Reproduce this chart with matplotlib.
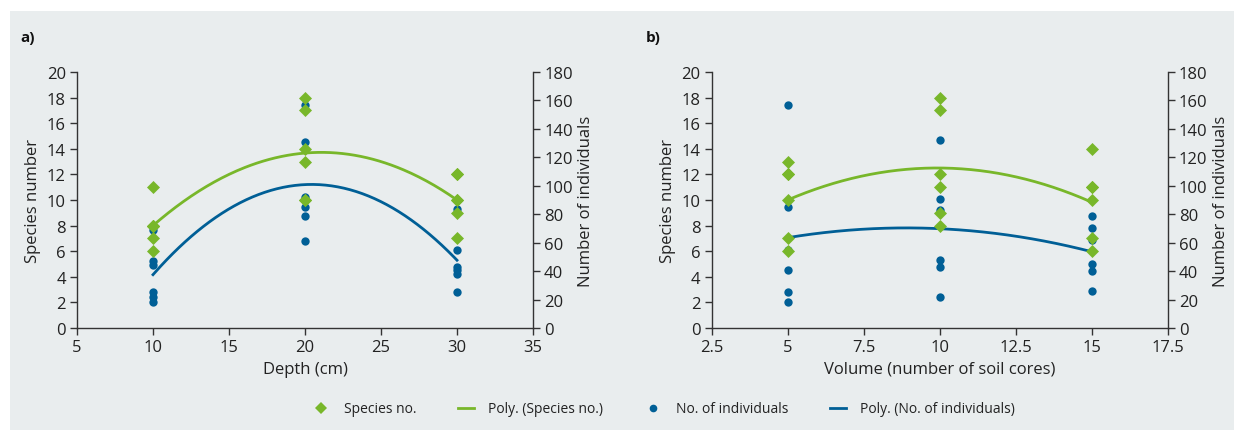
import numpy as np
import matplotlib
matplotlib.use("Agg")
import matplotlib.pyplot as plt
from matplotlib.ticker import FuncFormatter, MultipleLocator
from matplotlib.lines import Line2D

# ---------------- data ----------------
depth_x = [10, 20, 30]
depth_species = [
    [11, 8, 8, 8, 7, 6],
    [18, 17, 14, 13, 10, 10],
    [12, 12, 10, 10, 9, 7],
]
depth_individuals = [
    [69, 47, 44, 25, 22, 18],
    [157, 131, 92, 85, 79, 61],
    [84, 55, 43, 41, 38, 25],
]

volume_x = [5, 10, 15]
volume_species = [
    [13, 12, 12, 10, 7, 6],
    [18, 17, 12, 11, 9, 8],
    [14, 11, 11, 10, 7, 6],
]
volume_individuals = [
    [157, 85, 55, 41, 25, 18],
    [132, 91, 83, 48, 43, 22],
    [79, 70, 62, 45, 40, 26],
]

legend_labels = ["Species no.", "Poly. (Species no.)",
                 "No. of individuals", "Poly. (No. of individuals)"]

# ---------------- style ----------------
GREEN = "#78b72a"
BLUE = "#005f96"
BG = "#e9edee"
SPINE = "#333333"
plt.rcParams['font.family'] = ['Open Sans', 'DejaVu Sans']

W, H = 1234, 431
fig = plt.figure(figsize=(W / 100, H / 100), dpi=100)
fig.patch.set_facecolor("white")
fig.patches.append(plt.Rectangle((10 / W, 0), 1 - 10 / W, 1 - 12 / H,
                                 transform=fig.transFigure, facecolor=BG,
                                 edgecolor="none", zorder=-10))


def flatten(xs, groups):
    xx, yy = [], []
    for x, g in zip(xs, groups):
        xx += [x] * len(g)
        yy += list(g)
    return np.array(xx, float), np.array(yy, float)


def panel(left_px, xlim, xstep, xs, species, indiv, xlabel, tag, tag_px):
    ax = fig.add_axes([left_px / W, 1 - 329 / H, 456 / W, 256 / H])
    ax2 = ax.twinx()
    ax.set_zorder(ax2.get_zorder() + 1)
    ax.patch.set_visible(False)
    ax2.patch.set_visible(False)

    sx, sy = flatten(xs, species)
    ix, iy = flatten(xs, indiv)

    grid = np.linspace(min(xs), max(xs), 200)
    cs = np.polyfit(sx, sy, 2)
    ci = np.polyfit(ix, iy, 2)

    ax2.scatter(ix, iy, s=36, color=BLUE, marker="o", linewidths=0, zorder=3)
    ax2.plot(grid, np.polyval(ci, grid), color=BLUE, lw=2.0, zorder=2)
    ax.scatter(sx, sy, s=44, color=GREEN, marker="D", linewidths=0, zorder=3)
    ax.plot(grid, np.polyval(cs, grid), color=GREEN, lw=2.0, zorder=2)

    ax.set_xlim(*xlim)
    ax.set_ylim(0, 20)
    ax2.set_ylim(0, 180)
    ax.xaxis.set_major_locator(MultipleLocator(xstep))
    ax.yaxis.set_major_locator(MultipleLocator(2))
    ax2.yaxis.set_major_locator(MultipleLocator(20))
    ax.xaxis.set_major_formatter(FuncFormatter(lambda v, p: f"{v:g}"))

    for a in (ax, ax2):
        for s in a.spines.values():
            s.set_color(SPINE)
            s.set_linewidth(1.0)
        a.spines["top"].set_visible(False)
        a.tick_params(colors=SPINE, labelcolor="#222222", labelsize=12,
                      length=5, width=1.0, direction="out", pad=3)
    ax.spines["right"].set_visible(False)
    ax2.spines["left"].set_visible(False)
    ax2.spines["bottom"].set_visible(False)

    ax.set_xlabel(xlabel, fontsize=12, color="#222222", labelpad=4)
    ax.set_ylabel("Species number", fontsize=12, color="#222222", labelpad=4)
    ax2.set_ylabel("Number of individuals", fontsize=12, color="#222222", labelpad=4)

    fig.text(tag_px / W, 1 - 38 / H, tag, fontsize=11, fontweight="bold",
             ha="left", va="center", color="#111111")
    return ax, ax2


panel(77, (5, 35), 5, depth_x, depth_species, depth_individuals,
      "Depth (cm)", "a)", 20)
panel(711.6, (2.5, 17.5), 2.5, volume_x, volume_species, volume_individuals,
      "Volume (number of soil cores)", "b)", 646)

handles = [
    Line2D([], [], color=GREEN, marker="D", ls="none", markersize=6, markeredgewidth=0),
    Line2D([], [], color=GREEN, lw=2.0),
    Line2D([], [], color=BLUE, marker="o", ls="none", markersize=5.5, markeredgewidth=0),
    Line2D([], [], color=BLUE, lw=2.0),
]
fig.legend(handles, legend_labels, loc="center", ncol=4,
           bbox_to_anchor=(664 / W, 1 - 410 / H), frameon=False,
           fontsize=10, handlelength=1.2, columnspacing=3.0, handletextpad=1.0,
           labelcolor="#222222")

fig.savefig("out.png", dpi=100, facecolor=fig.get_facecolor())
